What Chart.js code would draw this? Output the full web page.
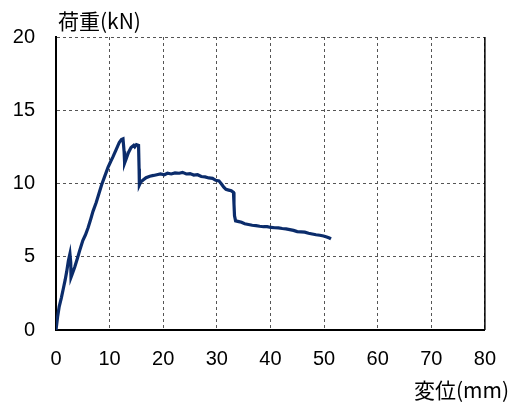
<!DOCTYPE html>
<html>
<head>
<meta charset="utf-8">
<script src="https://cdn.jsdelivr.net/npm/chart.js@4/dist/chart.umd.min.js"></script>
<style>
  html, body { margin: 0; padding: 0; background: #ffffff; }
  #wrap { width: 513px; height: 407px; position: relative; }
</style>
</head>
<body>
<div id="wrap"><canvas id="c" width="513" height="407"></canvas></div>
<script>
// Load–displacement curve
const dispX = [
  0, 0.3, 0.6, 1.0, 1.35, 1.7, 2.0, 2.3, 2.6, 2.75, 2.8, 3.0, 3.5, 4.0, 4.4,
  5.0, 5.5, 6.0, 6.5, 6.9, 7.5, 8.0, 8.5, 9.0, 9.7, 10.2, 10.6, 11.2, 11.8, 12.2,
  12.5, 12.7, 12.8, 13.1, 13.5, 14.0, 14.5, 14.7, 15.0, 15.4, 15.5, 15.55, 15.8, 16.3, 16.8,
  17.5, 18.2, 18.8, 19.5, 20.2, 20.8, 21.5, 22.2, 23.0, 23.6, 24.3, 25.0, 25.7, 26.4, 27.1,
  27.8, 28.5, 29.2, 29.8, 30.4, 30.9, 31.3, 31.7, 32.2, 32.7, 33.1, 33.2, 33.3, 33.5, 34.1,
  34.6, 35.2, 35.9, 36.6, 37.3, 38.0, 38.7, 39.4, 40.1, 40.8, 41.5, 42.2, 42.9, 43.6, 44.3,
  45.0, 45.7, 46.4, 47.1, 47.8, 48.5, 49.2, 49.9, 50.5, 51.0, 51.3
];
const loadY = [
  0, 0.9, 1.6, 2.2, 2.8, 3.4, 4.0, 4.7, 5.2, 4.6, 3.6, 3.8, 4.3, 4.9, 5.4,
  6.1, 6.5, 7.0, 7.6, 8.1, 8.7, 9.3, 9.9, 10.4, 11.1, 11.5, 11.8, 12.3, 12.8, 13.0,
  13.05, 12.2, 11.4, 11.7, 12.1, 12.45, 12.6, 12.5, 12.65, 12.6, 11.0, 9.9, 10.1, 10.25, 10.4,
  10.5, 10.55, 10.6, 10.65, 10.6, 10.7, 10.65, 10.72, 10.7, 10.76, 10.65, 10.68, 10.58, 10.6, 10.48,
  10.45, 10.38, 10.35, 10.22, 10.18, 9.95, 9.75, 9.6, 9.55, 9.5, 9.4, 8.6, 7.8, 7.45, 7.4,
  7.35, 7.25, 7.2, 7.15, 7.12, 7.08, 7.05, 7.06, 7.0, 6.98, 6.97, 6.93, 6.9, 6.85, 6.8,
  6.72, 6.7, 6.68, 6.6, 6.55, 6.5, 6.47, 6.42, 6.35, 6.28, 6.22
];
const xTicks = [0, 10, 20, 30, 40, 50, 60, 70, 80];
const yTicks = [0, 5, 10, 15, 20];
const yTitle = '荷重(kN)';
const xTitle = '変位(mm)';

const points = dispX.map((x, i) => ({ x: x, y: loadY[i] }));

const numFont = { family: '"Liberation Sans", Arial, sans-serif', size: 20 };
const jpFont = '21px "Noto Sans CJK JP", sans-serif';

// Axis titles and the solid right frame line
const frame = {
  id: 'frame',
  afterDraw(chart) {
    const { ctx, chartArea: a } = chart;
    ctx.save();
    ctx.strokeStyle = '#000';
    ctx.lineWidth = 1.5;
    ctx.beginPath();
    ctx.moveTo(a.right, a.top);
    ctx.lineTo(a.right, a.bottom);
    ctx.stroke();
    ctx.fillStyle = '#000';
    ctx.font = jpFont;
    ctx.textBaseline = 'middle';
    ctx.textAlign = 'left';
    ctx.fillText(yTitle, a.left + 2, 21);
    ctx.textAlign = 'right';
    ctx.fillText(xTitle, 509, 390);
    ctx.restore();
  }
};

new Chart(document.getElementById('c'), {
  type: 'scatter',
  data: {
    datasets: [{
      data: points,
      showLine: true,
      borderColor: '#0b2c6b',
      borderWidth: 3.2,
      pointRadius: 0,
      tension: 0,
      fill: false
    }]
  },
  options: {
    responsive: false,
    animation: false,
    events: [],
    layout: { padding: { top: 37, right: 25, bottom: 0, left: 0 } },
    plugins: { legend: { display: false }, tooltip: { enabled: false } },
    scales: {
      x: {
        type: 'linear',
        min: 0, max: 80,
        afterFit(s) { s.height = 77; },
        afterBuildTicks(s) { s.ticks = xTicks.map(v => ({ value: v })); },
        ticks: { color: '#000', font: numFont, padding: 17, maxRotation: 0 },
        grid: { color: '#555', lineWidth: 1, drawTicks: false },
        border: { display: true, color: '#000', width: 2, dash: [3, 3] }
      },
      y: {
        type: 'linear',
        min: 0, max: 20,
        afterFit(s) { s.width = 56; },
        afterBuildTicks(s) { s.ticks = yTicks.map(v => ({ value: v })); },
        ticks: { color: '#000', font: numFont, padding: 21 },
        grid: { color: '#555', lineWidth: 1, drawTicks: false },
        border: { display: true, color: '#000', width: 2, dash: [3, 3] }
      }
    }
  },
  plugins: [frame]
});
</script>
</body>
</html>
